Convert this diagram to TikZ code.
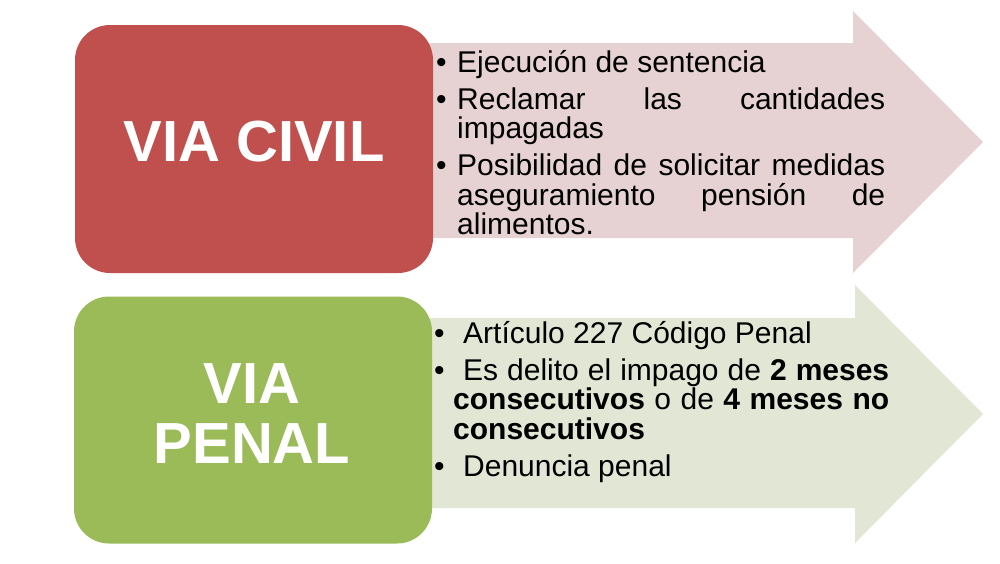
\documentclass[tikz,border=0pt]{standalone}
\usepackage{fontspec}
\setmainfont{Liberation Sans}
\definecolor{civilred}{HTML}{C0504D}
\definecolor{civilpink}{RGB}{231,210,211}
\definecolor{penalgreen}{HTML}{9BBB59}
\definecolor{penalpale}{RGB}{225,231,212}
\newcommand{\punto}[3]{\hangindent=#2pt\hangafter=1\makebox[#1pt][l]{\textbullet}#3\par}
\begin{document}
\begin{tikzpicture}[x=1pt, y=-1pt,
		via/.style = {shape=rectangle, rounded corners=35pt,
			minimum width=358pt, minimum height=248pt, inner sep=0pt},
		vialabel/.style = {text=white, align=center, inner sep=0pt,
			font=\fontsize{58}{60}\selectfont\bfseries},
		lista/.style = {anchor=base west, inner sep=0pt, align=justify,
			font=\fontsize{30}{29.5}\selectfont}]
	\useasboundingbox (0,0) rectangle (1000,563);
	\fill[civilpink] (400,43) -- (853,43) -- (853,11) -- (983,142)
		-- (853,273) -- (853,238) -- (400,238) -- cycle;
	\fill[penalpale] (400,318) -- (855,318) -- (855,285) -- (983,414)
		-- (855,543) -- (855,508) -- (400,508) -- cycle;
	\node[via, fill=civilred] (civil) at (254,149) {};
	\node[via, fill=penalgreen, minimum height=247pt] (penal) at (253,420) {};
	\node[vialabel] (civiltxt) at (254,142) {VIA CIVIL};
	\node[vialabel] (penaltxt) at (252,414) {VIA\\PENAL};
	\node[lista, text width=449pt] (civillist) at (436,72) {%
		\parskip=7.5pt\hyphenpenalty=10000\tolerance=9999
		\punto{21}{21}{Ejecución de sentencia}
		\punto{21}{21}{Reclamar las cantidades impagadas}
		\punto{21}{21}{Posibilidad de solicitar medidas aseguramiento pensión de alimentos.}};
	\node[lista, text width=455pt] (penallist) at (434,343) {%
		\parskip=7.5pt\hyphenpenalty=10000\tolerance=9999
		\punto{29}{19}{Artículo 227 Código Penal}
		\punto{29}{19}{Es delito el impago de \textbf{2 meses}\linebreak
			\textbf{consecutivos} o de \textbf{4 meses no}\linebreak \textbf{consecutivos}}
		\punto{29}{19}{Denuncia penal}};
\end{tikzpicture}
\end{document}
